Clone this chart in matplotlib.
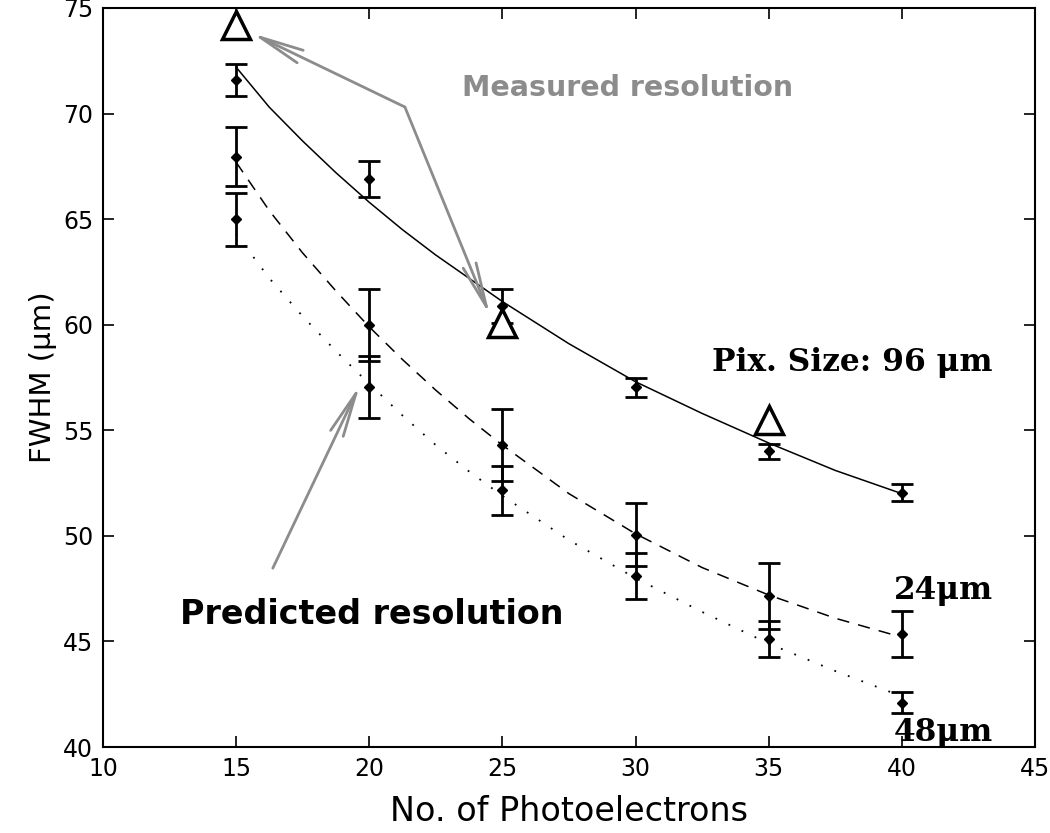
import numpy as np
import matplotlib
matplotlib.use("Agg")
from matplotlib import pyplot as plt

# Dados
n_pe = [15, 20, 25, 30, 35, 40]

fwhm_96 = [71.6, 66.9, 60.9, 57.05, 54.0, 52.05]
err_96 = [0.75, 0.85, 0.8, 0.45, 0.35, 0.4]

fwhm_24 = [67.95, 60.0, 54.3, 50.05, 47.15, 45.35]
err_24 = [1.4, 1.7, 1.7, 1.5, 1.55, 1.1]

fwhm_48 = [65.0, 57.05, 52.15, 48.1, 45.1, 42.1]
err_48 = [1.25, 1.45, 1.15, 1.1, 0.85, 0.5]

# resolucao medida (triangulos)
n_med = [15, 25, 35]
fwhm_med = [74.2, 60.1, 55.5]

# curvas de ajuste (lidas ao longo das linhas)
n_fit = [15, 16.25, 17.5, 18.75, 20, 21.25, 22.5, 23.75, 25, 27.5, 30, 32.5, 35, 37.5, 40]
fit_96 = [72.2, 70.3, 68.7, 67.2, 65.8, 64.5, 63.3, 62.2, 61.1, 59.1, 57.3, 55.8, 54.4, 53.1, 52.0]
fit_24 = [67.7, 65.4, 63.4, 61.6, 59.9, 58.35, 56.9, 55.55, 54.3, 52.0, 50.1, 48.5, 47.2, 46.1, 45.2]
fit_48 = [64.3, 62.2, 60.4, 58.75, 57.2, 55.7, 54.3, 53.05, 51.9, 49.8, 48.0, 46.4, 44.9, 43.6, 42.4]

plt.rcParams['font.family'] = ['DejaVu Sans']

fig = plt.figure(figsize=(10.5, 8.33), dpi=100)
ax = fig.add_axes([0.098, 0.1032, 0.8877, 0.8872])

# curvas
ax.plot(n_fit, fit_96, color="black", lw=1.1, ls="-")
ax.plot(n_fit, fit_24, color="black", lw=1.1, ls=(0, (8, 6)))
ax.plot(n_fit, fit_48, color="black", lw=1.3, ls=(0, (1, 7)))

# pontos com barras de erro
for y, e in [(fwhm_96, err_96), (fwhm_24, err_24), (fwhm_48, err_48)]:
    ax.errorbar(n_pe, y, yerr=e, fmt="D", color="black", ms=5,
                elinewidth=2, capsize=8, capthick=2)

# medidas
ax.plot(n_med, fwhm_med, ls="none", marker="^", ms=20, mfc="white",
        mec="black", mew=2.5)

ax.set_xlim(10, 45)
ax.set_ylim(40, 75)
ax.set_xticks(np.arange(10, 46, 5))
ax.set_yticks(np.arange(40, 76, 5))
ax.tick_params(direction="in", top=True, right=True, labelsize=17, length=8, width=1.2, pad=7)
for s in ax.spines.values():
    s.set_linewidth(1.5)

ax.set_xlabel("No. of Photoelectrons", fontsize=24, labelpad=10)
ax.set_ylabel("FWHM (\u03bcm)", fontsize=21, labelpad=4)

# anotacoes
cinza = "#8c8c8c"
seta = dict(arrowstyle="->,head_length=1.6,head_width=0.25", color=cinza, lw=2,
            mutation_scale=20, shrinkA=0, shrinkB=0)
ax.text(23.5, 71.2, "Measured resolution", color=cinza, fontsize=20.5,
        fontweight="bold", ha="left", va="center")
ax.annotate("", xy=(15.6, 73.8), xytext=(21.34, 70.31), arrowprops=seta)
ax.annotate("", xy=(24.53, 60.46), xytext=(21.34, 70.31), arrowprops=seta)

ax.text(12.9, 46.3, "Predicted resolution", color="black", fontsize=24,
        fontweight="bold", ha="left", va="center")
ax.annotate("", xy=(19.65, 57.14), xytext=(16.38, 48.47), arrowprops=seta)

serif = dict(family="DejaVu Serif", fontweight="bold", fontsize=22.5, color="black",
             ha="right", va="center")
ax.text(43.42, 58.23, "Pix. Size: 96 \u03bcm", **serif)
ax.text(43.42, 47.43, "24\u03bcm", **serif)
ax.text(43.42, 40.7, "48\u03bcm", **serif)

fig.savefig("out.png", dpi=100)
